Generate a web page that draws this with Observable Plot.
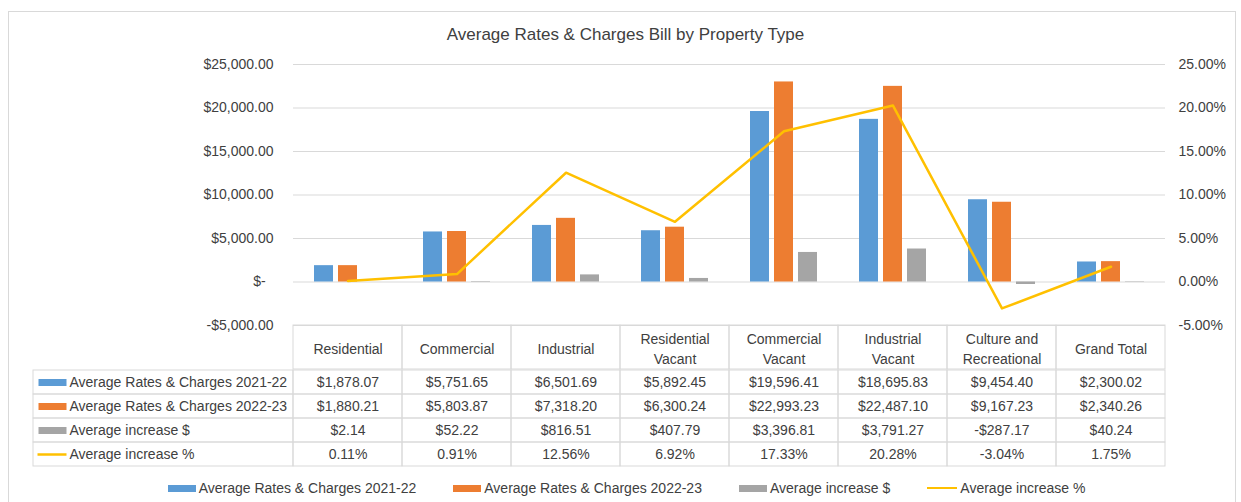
<!DOCTYPE html>
<html>
<head>
<meta charset="utf-8">
<script src="https://cdn.jsdelivr.net/npm/d3@7"></script>
<script src="https://cdn.jsdelivr.net/npm/@observablehq/plot@0.6"></script>
<style>
  html, body { margin: 0; padding: 0; background: #fff; }
  #chart { position: relative; width: 1241px; height: 502px; overflow: hidden;
           font-family: "Liberation Sans", Arial, sans-serif; color: #404040; }
  #chart svg { position: absolute; left: 0; overflow: visible; }
  #border { position: absolute; left: 8px; top: 11px; width: 1226px; height: 520px; border: 1px solid #d9d9d9; }
  #title { position: absolute; left: 0; top: 25px; width: 1251px; text-align: center; font-size: 17px; line-height: 20px; }
  #legend { position: absolute; left: 0; top: 478px; width: 1253px; display: flex; justify-content: center;
            gap: 37px; font-size: 14px; line-height: 20px; white-space: nowrap; }
  #legend .item { display: flex; align-items: center; }
  #legend .sw { display: inline-block; margin-right: 3px; }
</style>
</head>
<body>
<div id="chart">
  <div id="border"></div>
  <div id="title"></div>
  <div id="legend"></div>
</div>
<script>
// ---------- data ----------
const title = "Average Rates & Charges Bill by Property Type";
const categories = ["Residential", "Commercial", "Industrial", "Residential Vacant", "Commercial Vacant",
                    "Industrial Vacant", "Culture and Recreational", "Grand Total"];
const categoryLabels = ["Residential", "Commercial", "Industrial", "Residential\nVacant", "Commercial\nVacant",
                        "Industrial\nVacant", "Culture and\nRecreational", "Grand Total"];
const seriesNames = ["Average Rates & Charges 2021-22", "Average Rates & Charges 2022-23",
                     "Average increase $", "Average increase %"];
const rates2122 = [1878.07, 5751.65, 6501.69, 5892.45, 19596.41, 18695.83, 9454.40, 2300.02];
const rates2223 = [1880.21, 5803.87, 7318.20, 6300.24, 22993.23, 22487.10, 9167.23, 2340.26];
const increaseDollar = [2.14, 52.22, 816.51, 407.79, 3396.81, 3791.27, -287.17, 40.24];
const increasePct = [0.11, 0.91, 12.56, 6.92, 17.33, 20.28, -3.04, 1.75];
const dollarTicks = [-5000, 0, 5000, 10000, 15000, 20000, 25000];
const pctTicks = [-5, 0, 5, 10, 15, 20, 25];
const colors = ["#5B9BD5", "#ED7D31", "#A5A5A5", "#FFC000"];

// ---------- layout / style ----------
const W = 1241, ML = 293, MR = 76;
const frameW = W - ML - MR;
const K = dollarTicks[dollarTicks.length - 1] / pctTicks[pctTicks.length - 1]; // % -> $ axis mapping
const gridColor = "#d9d9d9";
const textColor = "#404040";
const style = {fontFamily: '"Liberation Sans", Arial, sans-serif', fontSize: "14px", color: textColor,
               background: "none", overflow: "visible"};
const xOpts = {type: "band", domain: categories, padding: 0, axis: null};
const barW = 19, barStep = 24;
const bandW = frameW / categories.length;
const barInset = (bandW - barW) / 2;

const money = d3.format(",.2f");
const fmtMoney = v => (v < 0 ? "-" : "") + "$" + money(Math.abs(v));
const fmtPct = v => v.toFixed(2) + "%";
const fmtAxisDollar = v => v === 0 ? "$-\u2007" : fmtMoney(v);

const seriesValues = [rates2122, rates2223, increaseDollar, increasePct];
const formatters = [fmtMoney, fmtMoney, fmtMoney, fmtPct];

const chartEl = document.getElementById("chart");
document.getElementById("title").textContent = title;

// ---------- main chart ----------
const barSeries = [rates2122, rates2223, increaseDollar];
const main = Plot.plot({
  width: W, height: 340, marginLeft: ML, marginRight: MR, marginTop: 64, marginBottom: 15,
  style,
  x: xOpts,
  y: {domain: [dollarTicks[0], dollarTicks[dollarTicks.length - 1]], label: null},
  marks: [
    Plot.gridY(dollarTicks, {stroke: gridColor, strokeOpacity: 1}),
    Plot.axisY(dollarTicks, {anchor: "left", tickSize: 0, tickPadding: 20, tickFormat: fmtAxisDollar, label: null}),
    Plot.axisY(pctTicks.map(p => p * K), {anchor: "right", tickSize: 0, tickPadding: 13,
               tickFormat: d => fmtPct(d / K), label: null}),
    ...barSeries.map((vals, i) => Plot.barY(
      categories.map((c, j) => ({category: c, value: vals[j]})),
      {x: "category", y: "value", fill: colors[i], insetLeft: barInset, insetRight: barInset, dx: (i - 1) * barStep})),
    Plot.line(categories.map((c, j) => ({category: c, value: increasePct[j] * K})),
      {x: "category", y: "value", stroke: colors[3], strokeWidth: 2.5, strokeLinejoin: "round"})
  ]
});
main.style.top = "0px";
chartEl.appendChild(main);

// ---------- table header ----------
const header = Plot.plot({
  width: W, height: 46, marginLeft: ML, marginRight: MR, marginTop: 1, marginBottom: 1,
  style,
  x: xOpts,
  y: {type: "band", domain: ["header"], padding: 0, axis: null},
  marks: [
    Plot.cell(categories, {x: d => d, y: () => "header", fill: "none", stroke: gridColor}),
    Plot.text(categories, {x: d => d, y: () => "header", text: (d, i) => categoryLabels[i], lineHeight: 1.43})
  ]
});
header.style.top = "324px";
chartEl.appendChild(header);

// ---------- table body ----------
const tableRows = seriesNames.flatMap((s, si) =>
  categories.map((c, ci) => ({series: s, category: c, text: formatters[si](seriesValues[si][ci])})));
const labelLeft = 33, labelTextLeft = 69;
const barSwatch = {draw(ctx) { ctx.rect(-14, -3.5, 28, 7); }};
const lineSwatch = {draw(ctx) { ctx.rect(-14.5, -1.25, 29, 2.5); }};
const body = Plot.plot({
  width: W, height: 100, marginLeft: ML, marginRight: MR, marginTop: 1, marginBottom: 1,
  style,
  x: xOpts,
  y: {type: "band", domain: seriesNames, padding: 0, axis: null},
  color: {type: "identity"},
  marks: [
    Plot.cell(tableRows, {x: "category", y: "series", fill: "none", stroke: gridColor}),
    Plot.cell(seriesNames, {y: d => d, fill: "none", stroke: gridColor,
                            insetLeft: -(ML - labelLeft), insetRight: frameW}),
    Plot.text(tableRows, {x: "category", y: "series", text: "text"}),
    Plot.text(seriesNames, {y: d => d, text: d => d, frameAnchor: "left", textAnchor: "start",
                            dx: -(ML - labelTextLeft)}),
    Plot.dot(seriesNames.slice(0, 3), {y: d => d, frameAnchor: "left", dx: -(ML - 52), symbol: barSwatch,
                                       fill: (d, i) => colors[i], stroke: "none"}),
    Plot.dot(seriesNames.slice(3), {y: d => d, frameAnchor: "left", dx: -(ML - 51.5), symbol: lineSwatch,
                                    fill: colors[3], stroke: "none"})
  ]
});
body.style.top = "368px";
chartEl.appendChild(body);

// ---------- legend ----------
const legend = document.getElementById("legend");
seriesNames.forEach((name, i) => {
  const item = document.createElement("div");
  item.className = "item";
  const sw = document.createElement("span");
  sw.className = "sw";
  const isLine = i === 3;
  sw.style.width = (isLine ? 30 : 28) + "px";
  sw.style.height = (isLine ? 2.5 : 7) + "px";
  sw.style.background = colors[i];
  const label = document.createElement("span");
  label.textContent = name;
  item.appendChild(sw);
  item.appendChild(label);
  legend.appendChild(item);
});
</script>
</body>
</html>
